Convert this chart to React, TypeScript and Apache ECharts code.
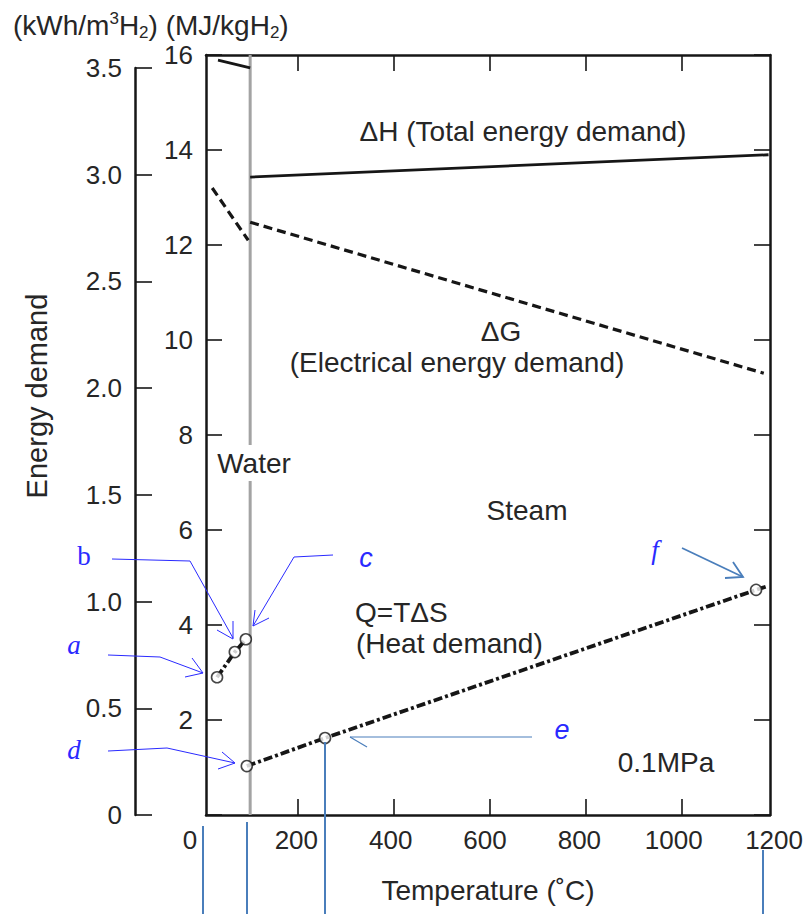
import React, { useEffect, useRef } from 'react';
import * as echarts from 'echarts';

// ---- data (Temperature in °C, energy in MJ/kgH2) ----
const dHWaterT = [33, 100];
const dHWater = [15.89, 15.73];
const dHSteamT = [100, 1180];
const dHSteam = [13.43, 13.9];
const dGWaterT = [21, 96];
const dGWater = [13.2, 12.1];
const dGSteamT = [100, 1170];
const dGSteam = [12.48, 9.3];
const qWaterT = [31, 68, 91];
const qWater = [2.9, 3.43, 3.7];
const qSteamT = [93, 256, 1154, 1178];
const qSteam = [1.03, 1.62, 4.74, 4.82];
const pointNames = ['a', 'b', 'c', 'd', 'e', 'f'];
const pointT = [31, 68, 91, 93, 256, 1154];
const pointQ = [2.9, 3.43, 3.7, 1.03, 1.62, 4.74];
const boundaryT = [100, 100];
const boundaryY = [0, 16];
const xTickValues = [200, 400, 600, 800, 1000];
const xRange = [8, 1183];
const xLabelRange = [0, 1200];
const mjRange = [0, 16];
const kwhRange = [0, 3.5];

const FONT = '"Liberation Sans", Arial, Helvetica, sans-serif';
const SERIF = '"Liberation Serif", "Times New Roman", serif';
const BLACK = '#161616';
const TXT = '#262626';
const BLUE = '#2a2aff';
const STEEL = '#4a7ebb';

const pair = (xs: number[], ys: number[]) => xs.map((x, i) => [x, ys[i]]);

export default function App() {
  const ref = useRef<HTMLDivElement>(null);
  useEffect(() => {
    const chart = echarts.init(ref.current!, null, { renderer: 'svg' });
    const axisLine = { show: true, onZero: false, lineStyle: { color: BLACK, width: 2.5 } };
    const tickIn = (len: number, custom?: number[]) => ({
      show: true,
      inside: true,
      length: len,
      lineStyle: { color: BLACK, width: 1.6 },
      ...(custom ? { customValues: custom } : {}),
    });
    const line = (name: string, data: number[][], type: any, width: number) => ({
      name,
      type: 'line',
      xAxisIndex: 0,
      yAxisIndex: 0,
      data,
      symbol: 'none',
      silent: true,
      z: 3,
      lineStyle: { color: BLACK, width, type, cap: 'butt' },
    });
    const txt = (text: string, x: number, y: number, size: number, align = 'center', extra: any = {}) => ({
      type: 'text',
      x,
      y,
      z: 20,
      style: {
        text,
        fill: TXT,
        fontSize: size,
        fontFamily: FONT,
        align,
        textAlign: align,
        verticalAlign: 'middle',
        textVerticalAlign: 'middle',
        ...extra,
      },
    });
    const letter = (text: string, x: number, y: number, family: string, italic: boolean) => ({
      type: 'text',
      x,
      y,
      z: 20,
      style: {
        text,
        fill: BLUE,
        fontSize: 27,
        fontFamily: family,
        fontStyle: italic ? 'italic' : 'normal',
        align: 'center',
        textAlign: 'center',
        verticalAlign: 'middle',
        textVerticalAlign: 'middle',
      },
    });
    const pl = (points: number[][], color: string, w: number) => ({
      type: 'polyline',
      z: 20,
      shape: { points },
      style: { stroke: color, lineWidth: w, fill: null },
    });

    const option: any = {
      animation: false,
      backgroundColor: '#ffffff',
      textStyle: { fontFamily: FONT },
      grid: [
        { left: 206, top: 55, width: 564, height: 760 },
        { left: 202, top: 55, width: 576, height: 760 },
        { left: 135, top: 68, width: 10, height: 747 },
      ],
      xAxis: [
        {
          gridIndex: 0,
          type: 'value',
          min: xRange[0],
          max: xRange[1],
          position: 'bottom',
          axisLine,
          axisTick: tickIn(16, xTickValues),
          axisLabel: { show: false },
          splitLine: { show: false },
          name: 'Temperature (˚C)',
          nameLocation: 'middle',
          nameGap: 61,
          nameTextStyle: { fontSize: 28, color: TXT, fontFamily: FONT },
        },
        {
          gridIndex: 0,
          type: 'value',
          min: xRange[0],
          max: xRange[1],
          position: 'top',
          axisLine,
          axisTick: tickIn(16, xTickValues),
          axisLabel: { show: false },
          splitLine: { show: false },
        },
        {
          gridIndex: 1,
          type: 'value',
          min: xLabelRange[0],
          max: xLabelRange[1],
          interval: 200,
          position: 'bottom',
          axisLine: { show: false },
          axisTick: { show: false },
          splitLine: { show: false },
          axisLabel: {
            show: true,
            fontSize: 26,
            color: TXT,
            fontFamily: FONT,
            margin: 12,
            showMinLabel: true,
            showMaxLabel: true,
            formatter: (v: number) => (v === 0 ? '{z|0}' : v === 1200 ? '{m|1200}' : String(v)),
            rich: {
              z: { fontSize: 26, color: TXT, fontFamily: FONT, padding: [0, 24, 0, 0] },
              m: { fontSize: 26, color: TXT, fontFamily: FONT, padding: [0, 0, 0, 12] },
            },
          },
        },
        { gridIndex: 2, type: 'value', show: false, min: 0, max: 1 },
      ],
      yAxis: [
        {
          gridIndex: 0,
          type: 'value',
          min: mjRange[0],
          max: mjRange[1],
          interval: 2,
          position: 'left',
          axisLine,
          axisTick: tickIn(16),
          splitLine: { show: false },
          axisLabel: {
            fontSize: 26,
            color: TXT,
            fontFamily: FONT,
            margin: 13,
            formatter: (v: number) => (v === 0 ? '' : String(v)),
          },
        },
        {
          gridIndex: 0,
          type: 'value',
          min: mjRange[0],
          max: mjRange[1],
          interval: 2,
          position: 'right',
          axisLine,
          axisTick: tickIn(16),
          splitLine: { show: false },
          axisLabel: { show: false },
        },
        { gridIndex: 1, type: 'value', show: false, min: mjRange[0], max: mjRange[1] },
        {
          gridIndex: 2,
          type: 'value',
          min: kwhRange[0],
          max: kwhRange[1],
          interval: 0.5,
          position: 'left',
          axisLine,
          axisTick: tickIn(17),
          splitLine: { show: false },
          axisLabel: {
            fontSize: 26,
            color: TXT,
            fontFamily: FONT,
            margin: 13,
            showMinLabel: true,
            showMaxLabel: true,
            formatter: (v: number) => (v === 0 ? '0' : v.toFixed(1)),
          },
        },
      ],
      series: [
        {
          name: 'boundary',
          type: 'line',
          xAxisIndex: 0,
          yAxisIndex: 0,
          data: pair(boundaryT, boundaryY),
          symbol: 'none',
          silent: true,
          z: 1,
          lineStyle: { color: '#a3a3a3', width: 3 },
        },
        line('dH water', pair(dHWaterT, dHWater), 'solid', 2.8),
        line('dH steam', pair(dHSteamT, dHSteam), 'solid', 2.8),
        line('dG water', pair(dGWaterT, dGWater), [9, 5], 3.2),
        line('dG steam', pair(dGSteamT, dGSteam), [9, 5], 3.2),
        line('Q water', pair(qWaterT, qWater), [9, 3, 3, 3], 3.8),
        line('Q steam', pair(qSteamT, qSteam), [9, 3, 3, 3], 3.8),
        {
          name: 'points',
          type: 'scatter',
          xAxisIndex: 0,
          yAxisIndex: 0,
          data: pointT.map((t, i) => ({ name: pointNames[i], value: [t, pointQ[i]] })),
          symbol: 'circle',
          symbolSize: 11,
          silent: true,
          z: 6,
          itemStyle: { color: '#ffffff', borderColor: BLACK, borderWidth: 1.6 },
        },
      ],
      graphic: [
        {
          type: 'text',
          x: 13,
          y: 25,
          z: 20,
          style: {
            text: '(kWh/m{sup|3}H{sub|2}) (MJ/kgH{sub|2})',
            fill: TXT,
            fontSize: 28,
            fontFamily: FONT,
            align: 'left',
            textAlign: 'left',
            verticalAlign: 'middle',
            textVerticalAlign: 'middle',
            rich: {
              sup: { fontSize: 17, fontFamily: FONT, fill: TXT, padding: [0, 0, 14, 0] },
              sub: { fontSize: 17, fontFamily: FONT, fill: TXT, padding: [14, 0, 0, 0] },
            },
          },
        },
        {
          type: 'text',
          x: 37,
          y: 396,
          rotation: Math.PI / 2,
          z: 20,
          style: {
            text: 'Energy demand',
            fill: TXT,
            fontSize: 29,
            fontFamily: FONT,
            align: 'center',
            textAlign: 'center',
            verticalAlign: 'middle',
            textVerticalAlign: 'middle',
          },
        },
        txt('ΔH (Total energy demand)', 523, 131, 28),
        txt('ΔG', 501, 331, 28),
        txt('(Electrical energy demand)', 457, 362, 28),
        txt('Water', 254, 463, 28, 'center', { backgroundColor: '#ffffff', padding: [5, 1, 3, 1] }),
        txt('Steam', 527, 510, 28),
        txt('Q=TΔS', 355, 612, 28, 'left'),
        txt('(Heat demand)', 356, 643, 28, 'left'),
        txt('0.1MPa', 666, 762, 28),
        // blue annotations
        letter('b', 84, 556, SERIF, false),
        letter('c', 366, 558, FONT, true),
        letter('a', 74, 645, SERIF, true),
        letter('d', 74, 750, SERIF, true),
        letter('e', 562, 730, FONT, true),
        letter('f', 655, 550, SERIF, true),
        pl([[112, 559], [190, 561], [233, 638]], BLUE, 1),
        pl([[217, 630], [233, 639], [233, 621]], BLUE, 1),
        pl([[333, 555], [294, 557], [253, 626]], BLUE, 1),
        pl([[269, 618], [253, 626], [255, 610]], BLUE, 1),
        pl([[108, 655], [160, 657], [203, 673]], BLUE, 1),
        pl([[185, 677], [203, 673], [192, 658]], BLUE, 1),
        pl([[108, 751], [167, 748], [235, 763]], BLUE, 1),
        pl([[218, 769], [235, 763], [222, 752]], BLUE, 1),
        pl([[532, 737], [350, 737]], STEEL, 1.2),
        pl([[350, 737], [367, 747]], STEEL, 1.2),
        pl([[682, 548], [743, 577]], STEEL, 1.8),
        pl([[725, 578], [743, 577], [733, 562]], STEEL, 1.8),
        pl([[203, 826], [203, 914]], STEEL, 2),
        pl([[247, 822], [247, 914]], STEEL, 2),
        pl([[325, 742], [325, 914]], STEEL, 2),
        pl([[763, 850], [763, 914]], STEEL, 2),
      ],
    };
    chart.setOption(option);
    return () => chart.dispose();
  }, []);
  return (
    <div
      ref={ref}
      style={{ position: 'fixed', left: 0, top: 0, width: 806, height: 914, background: '#ffffff' }}
    />
  );
}
